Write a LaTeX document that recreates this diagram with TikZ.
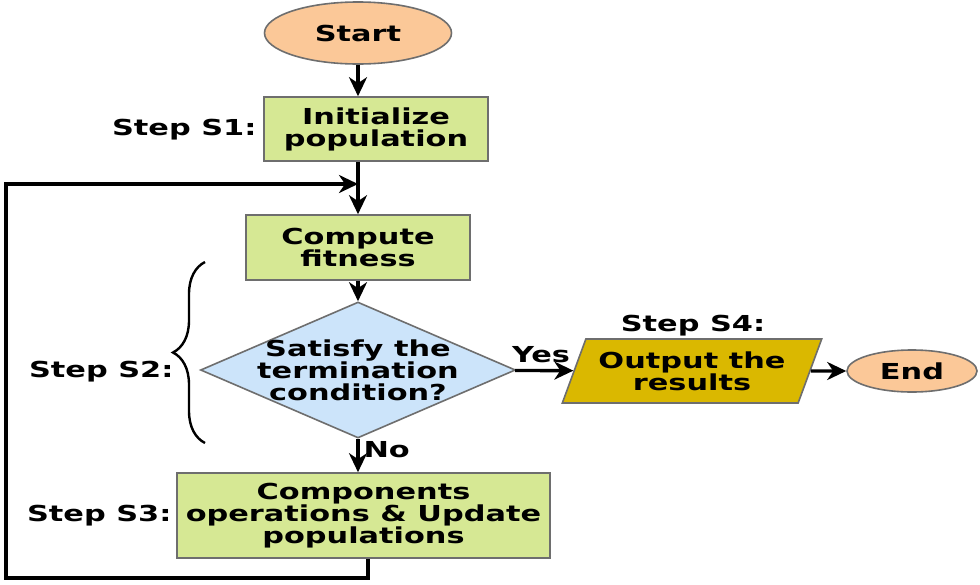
\documentclass[tikz,border=0pt]{standalone}
\usepackage{fontspec}
\usepackage{xcolor}
\newfontfamily\flowfont{DejaVu Sans}[FakeStretch=1.38]
\usetikzlibrary{shapes.geometric,arrows.meta,decorations.pathreplacing}
\definecolor{peach}{HTML}{FBC898}
\definecolor{leaf}{HTML}{D6E894}
\definecolor{sky}{HTML}{CCE4FA}
\definecolor{gold}{HTML}{DAB800}
\definecolor{rim}{HTML}{6E6E6E}
\tikzset{
  every node/.style={font=\flowfont\bfseries\fontsize{22}{22}\selectfont, align=center},
  terminal/.style={ellipse, draw=rim, fill=peach, line width=1.6pt, inner sep=0pt},
  procbox/.style={rectangle, draw=rim, fill=leaf, line width=1.6pt, inner sep=0pt},
  decision/.style={diamond, draw=rim, fill=sky, line width=1.6pt, inner sep=0pt},
  iobox/.style={trapezium, trapezium left angle=62, trapezium right angle=118, trapezium stretches=true, draw=rim, fill=gold, line width=1.6pt, inner sep=0pt},
  wire/.style={line width=3.4pt},
  flow/.style={wire, -{Stealth[length=19pt,width=18pt,inset=6pt]}}
}
\begin{document}
\begin{tikzpicture}[x=1pt,y=-1pt]
\fill[white] (0,0) rectangle (980,584);
\node[terminal, minimum width=187, minimum height=62] (start) at (358,33) {Start};
\node[procbox, minimum width=224, minimum height=64] (init) at (376,129) {Initialize\\population};
\node[procbox, minimum width=224, minimum height=65] (fit) at (358,247.5) {Compute\\fitness};
\node[decision, minimum width=315, minimum height=136,
  label={[align=center]center:Satisfy the\\termination\\condition?}] (cond) at (358,370) {};
\node[iobox, minimum width=260, minimum height=64] (out) at (692,371) {Output the\\results};
\node[terminal, minimum width=130, minimum height=42] (end) at (912,371) {End};
\node[procbox, minimum width=373, minimum height=85] (upd) at (363.5,515.5) {Components\\operations \& Update\\populations};
\node[anchor=east] (s1) at (260,130) {Step S1:};
\node[anchor=east] (s2) at (177,372) {Step S2:};
\node[anchor=east] (s3) at (175,516) {Step S3:};
\node (s4) at (693,326) {Step S4:};
\node (yes) at (541,355) {Yes};
\node[anchor=west] (no) at (360,450) {No};
\coordinate (join) at (358,184);
\coordinate (c1) at (368,578);
\coordinate (c2) at (6,578);
\coordinate (c3) at (6,184);
\draw[flow] (start) -- (start |- init.north);
\draw[wire] (start |- init.south) -- (join);
\draw[flow] (join) -- (fit);
\draw[flow] (fit) -- (cond);
\draw[flow] (cond) -- (out);
\draw[flow] (out) -- (end);
\draw[flow] (cond) -- (cond |- upd.north);
\draw[flow] (c1 |- upd.south) -- (c1) -- (c2) -- (c3) -- (join);
\draw[line width=2.4pt, decorate, decoration={brace, amplitude=32pt, aspect=0.5}] (205,443) -- (205,262);
\end{tikzpicture}
\end{document}
